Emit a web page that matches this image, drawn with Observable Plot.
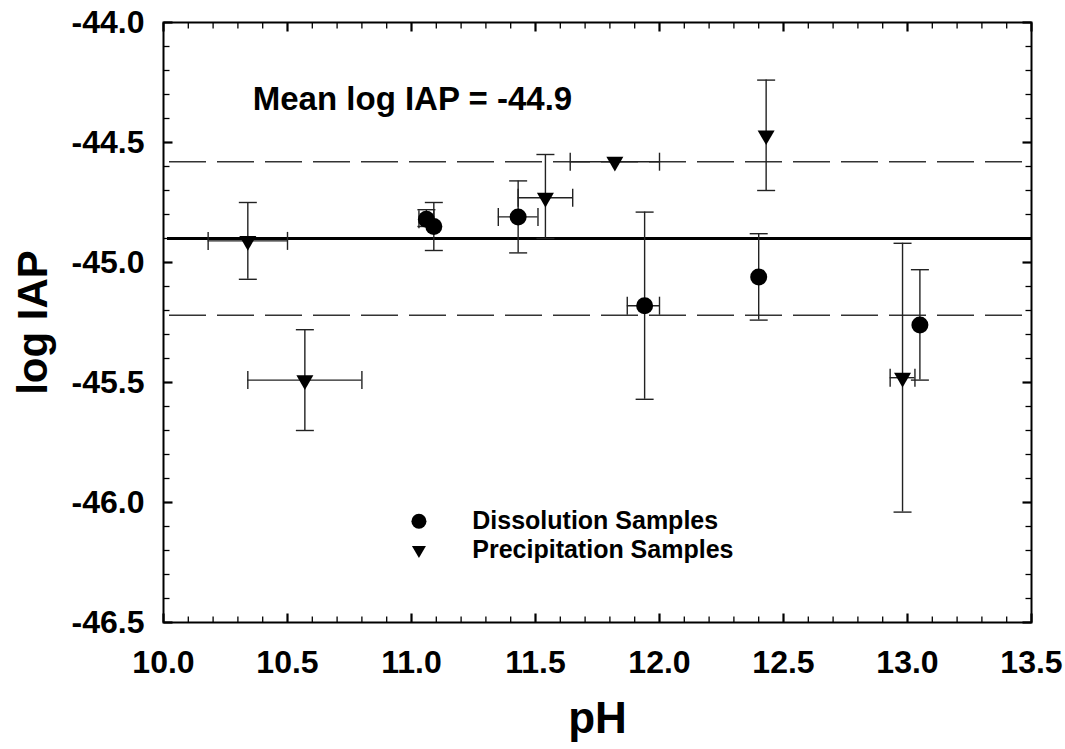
<!DOCTYPE html>
<html>
<head>
<meta charset="utf-8">
<script src="https://cdn.jsdelivr.net/npm/d3@7"></script>
<script src="https://cdn.jsdelivr.net/npm/@observablehq/plot@0.6"></script>
<style>
  html, body { margin: 0; padding: 0; background: #fff; }
  #chart svg { display: block; }
</style>
</head>
<body>
<div id="chart"></div>
<script>
// ---- Data ----
// Dissolution samples (circles)
const dissPH      = [11.06, 11.09, 11.43, 11.94, 12.40, 13.05];
const dissPHLow   = [11.03, 11.09, 11.35, 11.87, 12.40, 13.05];
const dissPHHigh  = [11.09, 11.09, 11.51, 12.00, 12.40, 13.05];
const dissLogIAP  = [-44.82, -44.85, -44.81, -45.18, -45.06, -45.26];
const dissIAPLow  = [-44.85, -44.95, -44.96, -45.57, -45.24, -45.49];
const dissIAPHigh = [-44.78, -44.75, -44.66, -44.79, -44.88, -45.03];

// Precipitation samples (down triangles)
const precPH      = [10.34, 10.57, 11.54, 11.82, 12.43, 12.98];
const precPHLow   = [10.18, 10.34, 11.43, 11.64, 12.43, 12.93];
const precPHHigh  = [10.50, 10.80, 11.65, 12.00, 12.43, 13.03];
const precLogIAP  = [-44.91, -45.49, -44.73, -44.58, -44.47, -45.48];
const precIAPLow  = [-45.07, -45.70, -44.90, -44.58, -44.70, -46.04];
const precIAPHigh = [-44.75, -45.28, -44.55, -44.58, -44.24, -44.92];

// Mean and bounds
const meanLogIAP = -44.90;
const boundLines = [-44.58, -45.22];

// Axis ticks
const xTickLabels = [10.0, 10.5, 11.0, 11.5, 12.0, 12.5, 13.0, 13.5];
const yTickLabels = [-44.0, -44.5, -45.0, -45.5, -46.0, -46.5];
const xMinorTicks = d3.range(0, 36).filter(i => i % 5 !== 0).map(i => 10 + i / 10);
const yMinorTicks = d3.range(0, 26).filter(i => i % 5 !== 0).map(i => -46.5 + i / 10);

// Annotations
const meanLabel = [{text: "Mean log IAP = -44.9", x: 10.36, y: -44.32}];
const legendItems = [
  {label: "Dissolution Samples", kind: "circle", x: 11.03, y: -46.078, tx: 11.245},
  {label: "Precipitation Samples", kind: "triangle", x: 11.03, y: -46.198, tx: 11.245}
];

// ---- Build tables ----
const dissolution = dissPH.map((x, i) => ({x, xLo: dissPHLow[i], xHi: dissPHHigh[i], y: dissLogIAP[i], yLo: dissIAPLow[i], yHi: dissIAPHigh[i]}));
const precipitation = precPH.map((x, i) => ({x, xLo: precPHLow[i], xHi: precPHHigh[i], y: precLogIAP[i], yLo: precIAPLow[i], yHi: precIAPHigh[i]}));
const all = dissolution.concat(precipitation);
const yErr = all.filter(d => d.yLo !== d.yHi);
const xErr = all.filter(d => d.xLo !== d.xHi);

// ---- Custom symbols ----
const rad = size => Math.sqrt(size / Math.PI);
const triDown = {draw(ctx, size) {
  const a = rad(size);
  ctx.moveTo(-a, -a * 0.577);
  ctx.lineTo(a, -a * 0.577);
  ctx.lineTo(0, a * 1.155);
  ctx.closePath();
}};
const hcap = {draw(ctx, size) { const a = rad(size); ctx.moveTo(-a, 0); ctx.lineTo(a, 0); }};
const vcap = {draw(ctx, size) { const a = rad(size); ctx.moveTo(0, -a); ctx.lineTo(0, a); }};
const tickIn = {draw(ctx, size) { const a = rad(size); ctx.moveTo(0, 0); ctx.lineTo(0, -a); }};

const FONT = "'Liberation Sans', Arial, Helvetica, sans-serif";
const tickMarks = (vals, len, sw) => [
  Plot.dot(vals, {x: d => d, frameAnchor: "bottom", symbol: tickIn, r: len, stroke: "black", strokeWidth: sw, fill: "none"}),
  Plot.dot(vals, {x: d => d, frameAnchor: "top", symbol: tickIn, r: len, rotate: 180, stroke: "black", strokeWidth: sw, fill: "none"})
];
const yTickMarks = (vals, len, sw) => [
  Plot.dot(vals, {y: d => d, frameAnchor: "left", symbol: tickIn, r: len, rotate: 90, stroke: "black", strokeWidth: sw, fill: "none"}),
  Plot.dot(vals, {y: d => d, frameAnchor: "right", symbol: tickIn, r: len, rotate: -90, stroke: "black", strokeWidth: sw, fill: "none"})
];

const chart = Plot.plot({
  width: 1065,
  height: 749,
  marginTop: 22,
  marginBottom: 127,
  marginLeft: 163,
  marginRight: 34,
  style: {fontFamily: FONT, fontWeight: "bold", fontSize: "32px", color: "black", background: "white"},
  x: {domain: [10, 13.5], label: null},
  y: {domain: [-46.5, -44.0], label: null},
  marks: [
    // bounds and mean
    Plot.ruleY(boundLines, {y: d => d, stroke: "#333", strokeWidth: 1.4, strokeDasharray: "37,11", insetLeft: 6}),
    Plot.ruleY([meanLogIAP], {y: d => d, stroke: "black", strokeWidth: 3, insetLeft: 4}),
    // error bars
    Plot.ruleX(yErr, {x: "x", y1: "yLo", y2: "yHi", stroke: "#222", strokeWidth: 1.4}),
    Plot.ruleY(xErr, {y: "y", x1: "xLo", x2: "xHi", stroke: "#222", strokeWidth: 1.4}),
    Plot.dot(yErr, {x: "x", y: "yLo", symbol: hcap, r: 9, stroke: "#222", strokeWidth: 1.4, fill: "none"}),
    Plot.dot(yErr, {x: "x", y: "yHi", symbol: hcap, r: 9, stroke: "#222", strokeWidth: 1.4, fill: "none"}),
    Plot.dot(xErr, {x: "xLo", y: "y", symbol: vcap, r: 9, stroke: "#222", strokeWidth: 1.4, fill: "none"}),
    Plot.dot(xErr, {x: "xHi", y: "y", symbol: vcap, r: 9, stroke: "#222", strokeWidth: 1.4, fill: "none"}),
    // markers
    Plot.dot(dissolution, {x: "x", y: "y", r: 8.5, fill: "black", stroke: "none"}),
    Plot.dot(precipitation, {x: "x", y: "y", symbol: triDown, r: 8.5, fill: "black", stroke: "none"}),
    // frame and ticks
    Plot.frame({stroke: "black", strokeWidth: 2}),
    ...tickMarks(xTickLabels, 9, 2.2),
    ...tickMarks(xMinorTicks, 6, 1.3),
    ...yTickMarks(yTickLabels, 9, 2.2),
    ...yTickMarks(yMinorTicks, 6, 1.3),
    // axis labels
    Plot.axisX(xTickLabels, {anchor: "bottom", tickSize: 0, tickPadding: 28, tickFormat: d => d.toFixed(1), fontSize: 32, fontWeight: "bold"}),
    Plot.axisY(yTickLabels, {anchor: "left", tickSize: 0, tickPadding: 19, tickFormat: d => d.toFixed(1), fontSize: 32, fontWeight: "bold"}),
    Plot.text(["pH"], {frameAnchor: "bottom", dy: 96, lineAnchor: "middle", textAnchor: "middle", text: d => d, fontSize: 44, fontWeight: "bold"}),
    Plot.text(["log IAP"], {frameAnchor: "left", dx: -130, rotate: -90, textAnchor: "middle", lineAnchor: "middle", text: d => d, fontSize: 42, fontWeight: "bold"}),
    // annotation
    Plot.text(meanLabel, {x: "x", y: "y", text: "text", textAnchor: "start", fontSize: 33, fontWeight: "bold"}),
    // legend
    Plot.dot(legendItems.filter(d => d.kind === "circle"), {x: "x", y: "y", r: 7.5, fill: "black"}),
    Plot.dot(legendItems.filter(d => d.kind === "triangle"), {x: "x", y: "y", symbol: triDown, r: 7, fill: "black"}),
    Plot.text(legendItems, {x: "tx", y: "y", text: "label", textAnchor: "start", fontSize: 25, fontWeight: "bold"})
  ]
});
document.getElementById("chart").appendChild(chart);
</script>
</body>
</html>
